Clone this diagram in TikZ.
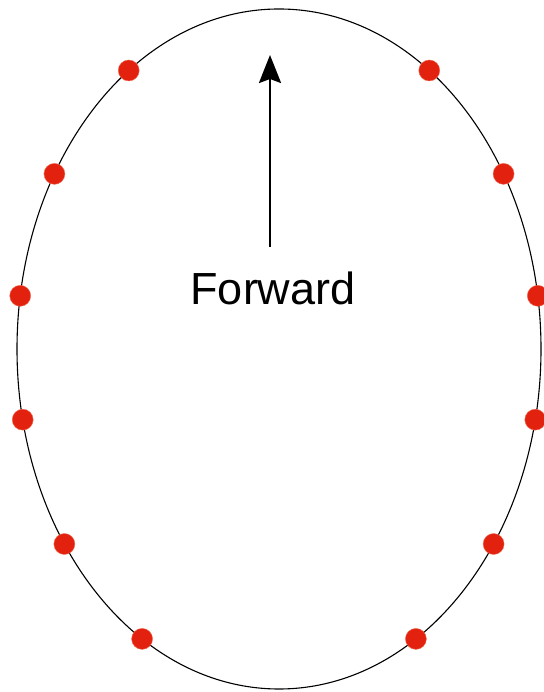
\documentclass[tikz,border=0pt]{standalone}
\usepackage{fontspec}
\setmainfont{Liberation Sans}
\usetikzlibrary{arrows.meta}
\definecolor{dotred}{RGB}{226,34,14}
\definecolor{dotrim}{RGB}{240,110,90}

\begin{document}
\begin{tikzpicture}[
  x=1pt,y=1pt,
  rim/.style={draw,line width=1.1pt},
  marker/.style={circle,fill=dotred,draw=dotrim,line width=0.4pt,
                 minimum size=21pt,inner sep=0pt},
  heading/.style={-{Stealth[length=28pt,width=22pt,inset=4pt]},line width=2.6pt},
  every node/.style={font=\fontsize{45}{50}\selectfont}
]
\useasboundingbox (0,0) rectangle (543,692);
\coordinate (centre) at (279,343);
\draw[rim] (centre) ellipse [x radius=262, y radius=340];

% markers on the rim, left side and its mirror
\foreach \a [count=\i] in {125,149,171,192,215,238.5}{
  \node[marker] (l\i) at ([shift={(\a:262pt and 340pt)}]centre) {};
  \pgfmathsetmacro{\b}{180-\a}
  \node[marker] (r\i) at ([shift={(\b:262pt and 340pt)}]centre) {};
}

\node[anchor=base,inner sep=0pt] (label) at (273,387) {Forward};
\coordinate (tail) at (270,445);
\coordinate (head) at (270,637);
\draw[heading] (tail) -- (head);
\end{tikzpicture}
\end{document}
